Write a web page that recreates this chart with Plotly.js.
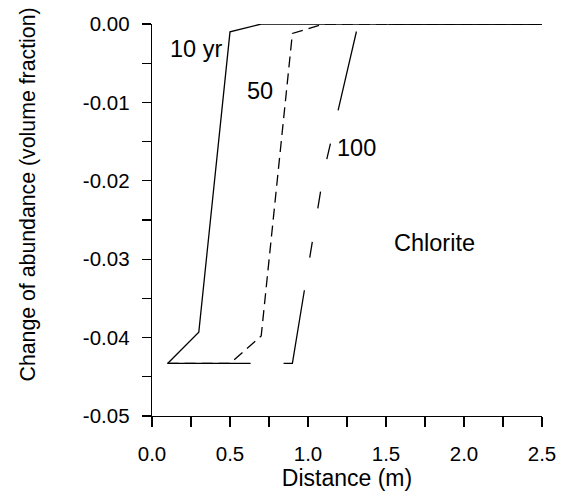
<!DOCTYPE html>
<html>
<head>
<meta charset="utf-8">
<script src="https://cdn.plot.ly/plotly-3.0.1.min.js"></script>
<style>
html,body{margin:0;padding:0;background:#fff;}
#chart{width:561px;height:498px;}
</style>
</head>
<body>
<div id="chart"></div>
<script>
// Data
var x10 = [0.1, 0.3, 0.5, 0.7, 2.5];
var y10 = [-0.0433, -0.0393, -0.0010, 0.0, 0.0];
var x50 = [0.1, 0.5, 0.7, 0.9, 1.1, 2.5];
var y50 = [-0.0433, -0.0433, -0.0398, -0.0012, 0.0, 0.0];
var x100 = [0.1, 0.9, 1.1, 1.31, 1.5, 2.5];
var y100 = [-0.0433, -0.0433, -0.0190, -0.0010, 0.0, 0.0];

var labels = [
  {text: '10 yr', x: 0.28, y: -0.0032},
  {text: '50', x: 0.69, y: -0.0086},
  {text: '100', x: 1.31, y: -0.0158},
  {text: 'Chlorite', x: 1.81, y: -0.0279}
];

var fontFam = '"Liberation Sans", Arial, sans-serif';

var traces = [
  {x: x10, y: y10, mode: 'lines', line: {color: '#000', width: 1.3, dash: 'solid'}, hoverinfo: 'skip'},
  {x: x50, y: y50, mode: 'lines', line: {color: '#000', width: 1.3, dash: '11px,6px'}, hoverinfo: 'skip'},
  {x: x100, y: y100, mode: 'lines', line: {color: '#000', width: 1.3,
     dash: '83px,33px,83px,33px,16px,34px,17px,33px,16px,34px,81px,33px,400px'}, hoverinfo: 'skip'}
];

var annotations = labels.map(function (l) {
  return {x: l.x, y: l.y, xref: 'x', yref: 'y', text: l.text, showarrow: false,
          font: {family: fontFam, size: 23.5, color: '#000'}, xanchor: 'center', yanchor: 'middle'};
});
annotations.push({
  xref: 'paper', yref: 'paper', x: -0.318, y: 0.565, text: 'Change of abundance (volume fraction)',
  textangle: -90, showarrow: false, font: {family: fontFam, size: 21.3, color: '#000'},
  xanchor: 'center', yanchor: 'middle'
});

var layout = {
  width: 561, height: 498,
  margin: {l: 152, r: 19, t: 24, b: 82, pad: 0},
  paper_bgcolor: '#fff', plot_bgcolor: '#fff',
  showlegend: false,
  font: {family: fontFam, color: '#000'},
  xaxis: {
    range: [0, 2.5], tickvals: [0, 0.5, 1.0, 1.5, 2.0, 2.5],
    ticktext: ['0.0', '0.5', '1.0', '1.5', '2.0', '2.5'],
    ticks: 'outside', ticklen: 10, tickwidth: 1.3, tickcolor: '#000',
    minor: {tickvals: [0.25, 0.75, 1.25, 1.75, 2.25], ticks: 'outside', ticklen: 10, tickwidth: 1.3, tickcolor: '#000', showgrid: false},
    showline: true, linecolor: '#000', linewidth: 1.3, showgrid: false, zeroline: false,
    tickfont: {family: fontFam, size: 20.5, color: '#000'},
    ticklabelstandoff: 9,
    title: {text: 'Distance (m)', font: {family: fontFam, size: 23, color: '#000'}, standoff: 3}
  },
  yaxis: {
    range: [-0.05, 0], tickvals: [0, -0.01, -0.02, -0.03, -0.04, -0.05],
    ticktext: ['0.00', '-0.01', '-0.02', '-0.03', '-0.04', '-0.05'],
    ticks: 'outside', ticklen: 9, tickwidth: 1.3, tickcolor: '#000',
    minor: {tickvals: [-0.005, -0.015, -0.025, -0.035, -0.045], ticks: 'outside', ticklen: 9, tickwidth: 1.3, tickcolor: '#000', showgrid: false},
    showline: true, linecolor: '#000', linewidth: 1.3, showgrid: false, zeroline: false,
    tickfont: {family: fontFam, size: 20.5, color: '#000'},
    ticklabelstandoff: 8
  },
  annotations: annotations
};

Plotly.newPlot('chart', traces, layout, {staticPlot: true, displayModeBar: false});
</script>
</body>
</html>
